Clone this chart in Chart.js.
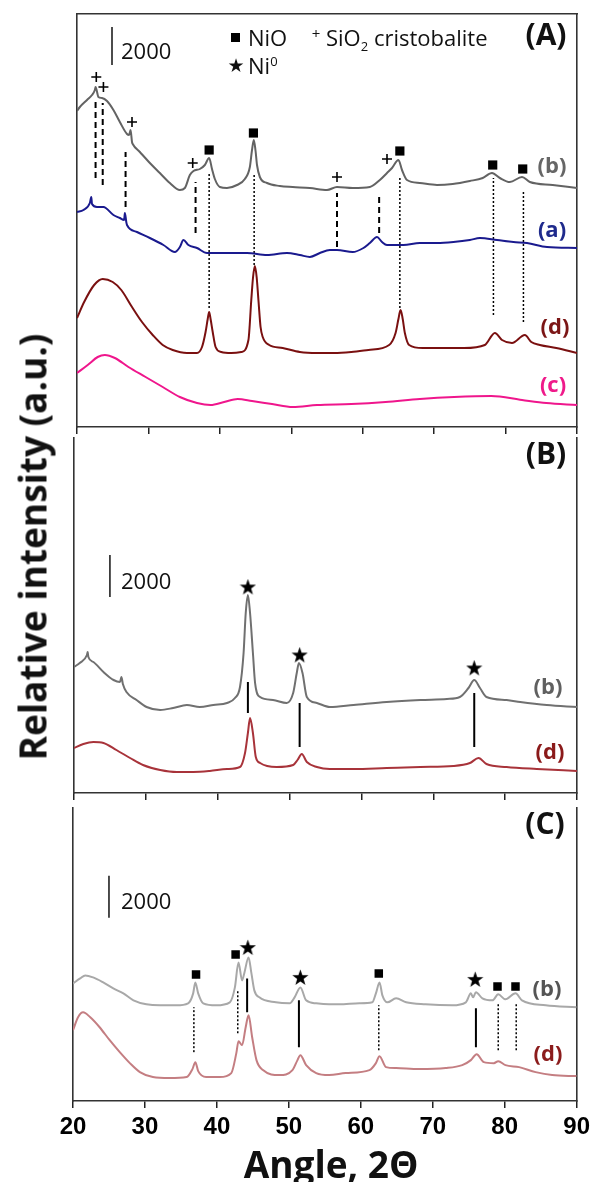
<!DOCTYPE html>
<html>
<head>
<meta charset="utf-8">
<title>XRD patterns</title>
<script src="https://cdn.jsdelivr.net/npm/chart.js@4.4.1/dist/chart.umd.min.js"></script>
<style>
  body { margin: 0; background: #fff; }
  #wrap { position: relative; width: 595px; height: 1182px; overflow: hidden; font-family: 'Open Sans', sans-serif; color: #111; }
  canvas { position: absolute; left: 0; }
  .t { position: absolute; transform: translate(-50%, -50%); white-space: nowrap; line-height: 1; }
  .l { position: absolute; transform: translateY(-50%); white-space: nowrap; line-height: 1; font-size: 22px; }
  .l sub, .l sup { font-size: 13px; line-height: 0; }
  .sq { position: absolute; width: 9px; height: 9px; background: #000; }
  .lab { font-weight: 700; font-size: 22px; }
</style>
</head>
<body>
<div id="wrap">
  <canvas id="cA" width="595" height="440" style="top:0"></canvas>
  <canvas id="cB" width="595" height="375" style="top:430px"></canvas>
  <canvas id="cC" width="595" height="382" style="top:800px"></canvas>

  <!-- panel letters -->
  <div class="t" style="left:546px;top:34px;font-weight:700;font-size:30px">(A)</div>
  <div class="t" style="left:546px;top:453px;font-weight:700;font-size:30px">(B)</div>
  <div class="t" style="left:545px;top:823px;font-weight:700;font-size:30px">(C)</div>

  <!-- phase legend -->
  <div class="sq" style="left:231px;top:33px"></div>
  <div class="l" style="left:248px;top:37px">NiO</div>
  <div class="t" style="left:316px;top:33px;font-size:15px">+</div>
  <div class="l" style="left:326px;top:37px">SiO<sub>2</sub> cristobalite</div>
  <div class="t" style="left:236px;top:65px;font-family:'DejaVu Sans';font-size:19px">★</div>
  <div class="l" style="left:248px;top:65px">Ni<sup>0</sup></div>

  <!-- scale bar values -->
  <div class="l" style="left:121px;top:50px">2000</div>
  <div class="l" style="left:121px;top:580px">2000</div>
  <div class="l" style="left:121px;top:900px">2000</div>

  <!-- sample labels -->
  <div class="t lab" style="left:552px;top:164px;color:#666">(b)</div>
  <div class="t lab" style="left:552px;top:228px;color:#1f2a8c">(a)</div>
  <div class="t lab" style="left:555px;top:325px;color:#7b1515">(d)</div>
  <div class="t lab" style="left:553px;top:383px;color:#ef1a8a">(c)</div>
  <div class="t lab" style="left:548px;top:685px;color:#606060">(b)</div>
  <div class="t lab" style="left:550px;top:750px;color:#8b1a1a">(d)</div>
  <div class="t lab" style="left:547px;top:987px;color:#555">(b)</div>
  <div class="t lab" style="left:548px;top:1052px;color:#8b1c1c">(d)</div>

  <!-- axis titles -->
  <div class="t" style="left:32px;top:547px;font-weight:700;font-size:37px;transform:translate(-50%,-50%) rotate(-90deg)">Relative intensity (a.u.)</div>
  <div class="t" style="left:331px;top:1163px;font-weight:700;font-size:37px">Angle, 2Θ</div>
</div>

<script>
// ---- panel A: calcined samples (offset traces, a.u.) ----
const aB_x = [20.0,20.4,21.4,22.1,22.5,22.6,23.0,23.5,24.2,25.1,26.0,27.0,27.3,27.5,27.7,27.8,28.8,30.2,31.6,33.0,34.4,35.1,35.8,36.3,37.2,37.9,38.5,38.9,39.3,40.0,41.0,42.4,43.5,44.2,44.5,44.75,45.0,45.2,45.6,46.6,48.4,50.2,52.6,55.0,56.4,58.6,61.0,62.4,63.4,64.1,65.0,65.5,66.2,68.0,70.4,72.6,75.0,76.8,78.1,79.2,80.6,82.3,83.4,86.6,90.0];
const aB_y = [316,320,327,332,337,340,330,329,326,317,305,293,292,297,285,283,275,264,254,244,237,239,252,256,258,262,269,258,248,240,239,242,248,260,277,287,276,262,250,244,241,240,239,237,240,239,240,247,254,259,267,257,247,244,242,243,246,249,254,249,245,250,245,242,239];

const aA_x = [20.0,20.9,21.8,22.0,22.1,22.8,23.7,25.1,26.0,26.6,26.7,26.9,27.0,28.4,30.2,32.1,33.7,34.4,34.9,35.6,36.8,38.2,41.0,43.8,46.6,49.4,51.2,52.6,54.0,55.4,56.4,58.6,60.1,61.0,62.0,62.7,63.4,65.7,68.0,70.4,72.7,75.0,76.4,78.8,81.1,83.0,85.8,90.0];
const aA_y = [215,217,224,230,223,220,220,212,209,207,214,205,202,195,189,182,175,180,187,182,179,174,174,174,172,174,172,170,174,177,177,175,179,184,190,185,182,182,184,184,185,187,189,187,185,184,180,179];

const aD_x = [20.0,21.0,22.4,23.6,25.0,26.2,27.7,29.1,30.6,32.0,33.4,35.4,36.8,37.5,38.0,38.3,38.5,38.7,39.0,39.4,40.2,41.6,43.0,44.0,44.4,44.65,44.9,45.15,45.4,45.7,46.0,46.9,48.8,51.2,53.6,56.0,58.4,60.8,63.7,64.6,65.0,65.3,65.6,65.9,66.5,68.4,71.3,74.2,77.1,78.5,79.5,80.9,82.7,83.6,84.8,87.1,90.0];
const aD_y = [109,125,142,148,145,137,120,105,92,82,77,74,74,80,95,108,115,108,95,80,75,74,75,87,127,150,161,150,127,100,90,82,79,75,74,74,75,77,82,94,108,117,108,94,82,79,79,79,82,94,87,84,92,85,82,79,74];

const aC_x = [20.0,21.5,22.9,23.9,25.3,27.2,29.6,32.0,34.4,36.8,38.7,40.6,42.5,44.5,47.3,50.2,53.6,58.4,63.2,68.0,72.8,78.0,82.3,85.7,90.0];
const aC_y = [54,62,70,72,69,60,50,40,30,24,22,25,28,26,23,20,22,23,25,28,30,31,27,24,22];

const aPlus_x = [22.7, 23.7, 27.7, 36.2, 56.4, 63.4];
const aPlus_y = [350, 340, 305, 264, 250, 268];
const aSq_x = [38.5, 44.7, 65.2, 78.2, 82.4];
const aSq_y = [277, 294, 276, 262, 258];
const aDash_x = [22.6, 23.6, 26.8, 36.6, 56.4, 62.3];
const aDash_top = [325, 324, 275, 245, 234, 234];
const aDash_bot = [249, 242, 220, 194, 180, 194];
const aDot_x = [38.5, 44.8, 65.2, 78.3, 82.5];
const aDot_top = [255, 254, 250, 249, 235];
const aDot_bot = [119, 162, 119, 112, 105];
const aBar = [24.9, 362, 400];

// ---- panel B: reduced samples ----
const bB_x = [20.0,20.8,21.8,21.9,22.0,22.7,24.1,25.5,26.4,26.6,26.8,27.3,28.7,30.1,32.0,33.8,35.7,37.5,39.4,41.3,42.4,43.1,43.6,43.9,44.2,44.5,44.9,45.2,45.9,47.7,49.6,50.5,51.0,51.3,51.8,52.4,53.8,55.6,58.9,63.5,68.2,71.9,73.7,74.9,75.7,76.5,77.4,80.2,82.1,85.8,90.0];
const bB_y = [126,130,138,141,136,131,121,113,111,116,109,101,93,86,83,85,88,86,88,90,95,106,140,180,198,180,140,110,96,93,90,100,120,130,120,96,90,86,88,91,93,94,96,105,113,105,96,93,91,88,86];

const bD_x = [20.0,21.3,22.7,24.1,25.9,27.8,29.6,32.0,34.3,36.6,38.9,41.3,43.1,43.8,44.2,44.5,44.9,45.3,45.9,48.2,50.5,51.1,51.7,52.4,53.8,55.6,58.9,63.5,68.2,72.8,75.1,76.3,77.4,80.2,84.4,90.0];
const bD_y = [45,49,51,50,43,35,28,23,21,21,22,24,26,40,60,75,60,36,30,26,28,33,39,31,26,24,24,25,26,27,30,35,29,26,24,22];

const bStar_x = [44.2, 51.4, 75.7];
const bStar_y = [206, 138, 125];
const bLine_x = [44.2, 51.4, 75.7];
const bLine_top = [111, 90, 100];
const bLine_bot = [80, 46, 46];
const bBar = [25.0, 196, 238];

// ---- panel C: spent samples ----
const cB_x = [20.0,21.0,21.7,22.8,24.2,25.6,27.0,28.4,30.2,32.1,34.4,36.0,36.7,37.0,37.4,38.1,39.9,41.8,42.5,43.0,43.5,43.8,44.4,44.8,45.2,45.9,48.2,50.1,50.8,51.6,52.4,53.8,55.6,57.0,59.8,61.6,62.1,62.6,63.0,63.7,64.9,66.3,69.0,72.7,74.6,75.3,75.6,76.0,76.9,78.3,79.1,80.1,81.5,82.4,85.7,90.0];
const cB_y = [118,123,126,124,119,113,108,101,97,96,96,98,108,119,108,98,96,99,114,139,121,128,144,128,111,104,99,98,104,114,101,98,97,97,98,99,108,119,106,99,103,99,97,96,99,108,104,109,103,101,107,102,108,101,96,94];

const cD_x = [20.0,20.7,21.4,22.4,23.7,25.1,26.5,27.9,29.3,31.1,33.4,35.8,36.6,37.0,37.4,38.5,40.4,42.0,42.7,43.0,43.5,44.0,44.4,44.9,45.5,46.4,48.7,50.5,51.2,51.6,52.4,53.8,55.6,57.9,61.2,62.1,62.6,63.5,64.9,68.1,71.8,74.1,75.3,76.1,77.1,78.5,79.1,80.1,82.0,84.3,86.6,90.0];
const cD_y = [71,84,89,84,74,61,49,38,29,24,23,24,32,39,30,24,24,28,48,60,56,74,86,64,41,31,26,31,41,46,36,28,26,28,31,38,45,34,33,32,33,36,41,47,39,38,40,36,34,29,26,25];

const cSq_x = [37.1, 42.6, 62.5, 79.0, 81.5];
const cSq_y = [127, 147, 128, 115, 115];
const cStar_x = [44.3, 51.6, 75.9];
const cStar_y = [154, 124, 122];
const cDot_x = [36.8, 42.9, 62.5, 79.1, 81.6];
const cDot_top = [94, 111, 96, 98, 98];
const cDot_bot = [49, 68, 51, 51, 51];
const cLine_x = [44.2, 51.4, 76.0];
const cLine_top = [123, 101, 93];
const cLine_bot = [89, 54, 54];
const cBar = [25.0, 184, 226];

const xTicks = [20, 30, 40, 50, 60, 70, 80, 90];

// filled star used as point style
function makeStar(size) {
  const c = document.createElement('canvas');
  c.width = c.height = size;
  const g = c.getContext('2d');
  g.fillStyle = '#000';
  g.beginPath();
  for (let i = 0; i < 10; i++) {
    const r = i % 2 ? size * 0.2 : size * 0.5;
    const a = -Math.PI / 2 + i * Math.PI / 5;
    g.lineTo(size / 2 + r * Math.cos(a), size / 2 + 0.5 + r * Math.sin(a));
  }
  g.closePath();
  g.fill();
  return c;
}
const star = makeStar(17);

function xy(xs, ys) {
  return xs.map((x, i) => ({x: x, y: ys[i]}));
}

function curve(xs, ys, color) {
  return {data: xy(xs, ys), borderColor: color, borderWidth: 2, pointRadius: 0,
          cubicInterpolationMode: 'monotone', fill: false};
}

function vlines(xs, tops, bots, dash, width) {
  return xs.map((x, i) => ({
    data: [{x: x, y: bots[i]}, {x: x, y: tops[i]}],
    borderColor: '#000', borderWidth: width, borderDash: dash, pointRadius: 0
  }));
}

function symbols(xs, ys, style, r, w) {
  return {data: xy(xs, ys), showLine: false, pointStyle: style, pointRadius: r,
          pointBackgroundColor: '#000', pointBorderColor: '#000', pointBorderWidth: w};
}

function bar(b) {
  return {data: [{x: b[0], y: b[1]}, {x: b[0], y: b[2]}], borderColor: '#111', borderWidth: 1.5, pointRadius: 0};
}

const frame = {display: true, color: '#333', width: 1.6};

function panel(id, p, datasets) {
  const scales = {
    x: {
      type: 'linear', min: 20, max: 90, position: 'bottom',
      afterBuildTicks: s => { s.ticks = xTicks.map(v => ({value: v})); },
      afterFit: s => { s.height = p.axisH; },
      grid: {display: true, drawOnChartArea: false, drawTicks: true, tickLength: 7, color: '#222', lineWidth: 1.5},
      border: frame,
      ticks: {display: p.labels, padding: 5, color: '#000',
              font: {family: "'Liberation Sans', Arial, sans-serif", weight: 'bold', size: 24}}
    },
    y: {
      min: 0, max: p.yMax,
      afterFit: s => { s.width = p.left; },
      grid: {display: false}, ticks: {display: false}, border: frame
    },
    yR: {
      position: 'right', min: 0, max: p.yMax, display: true,
      afterFit: s => { s.width = 595 - p.right; },
      grid: {display: false}, ticks: {display: false}, border: frame
    }
  };
  if (p.topH) {
    scales.xT = {
      type: 'linear', position: 'top', min: 20, max: 90, display: true,
      afterFit: s => { s.height = p.topH; },
      grid: {display: false}, ticks: {display: false}, border: frame
    };
  }
  return new Chart(document.getElementById(id), {
    type: 'line',
    data: {datasets: datasets},
    options: {
      responsive: false, animation: false, devicePixelRatio: 1,
      layout: {padding: {top: p.padTop || 0}},
      plugins: {legend: {display: false}, tooltip: {enabled: false}},
      elements: {point: {radius: 0}},
      scales: scales
    }
  });
}

panel('cA', {axisH: 13, topH: 14, left: 77, right: 577, yMax: 413, labels: false}, [
  curve(aB_x, aB_y, '#636363'),
  curve(aA_x, aA_y, '#1a1a8e'),
  curve(aD_x, aD_y, '#7a1010'),
  curve(aC_x, aC_y, '#ef168c'),
  ...vlines(aDash_x, aDash_top, aDash_bot, [6, 4], 2),
  ...vlines(aDot_x, aDot_top, aDot_bot, [2, 2], 1.5),
  symbols(aPlus_x, aPlus_y, 'cross', 5, 1.6),
  symbols(aSq_x, aSq_y, 'rect', 6.5, 0),
  bar(aBar)
]);

panel('cB', {axisH: 12, padTop: 8, left: 74, right: 577, yMax: 355, labels: false}, [
  curve(bB_x, bB_y, '#707070'),
  curve(bD_x, bD_y, '#a8333a'),
  ...vlines(bLine_x, bLine_top, bLine_bot, [], 2),
  symbols(bStar_x, bStar_y, star, 8, 0),
  bar(bBar)
]);

panel('cC', {axisH: 81, padTop: 7, left: 73, right: 578, yMax: 294, labels: true}, [
  curve(cB_x, cB_y, '#a8a8a8'),
  curve(cD_x, cD_y, '#c47e82'),
  ...vlines(cDot_x, cDot_top, cDot_bot, [2, 2], 1.5),
  ...vlines(cLine_x, cLine_top, cLine_bot, [], 2),
  symbols(cSq_x, cSq_y, 'rect', 6, 0),
  symbols(cStar_x, cStar_y, star, 8, 0),
  bar(cBar)
]);
</script>
</body>
</html>
